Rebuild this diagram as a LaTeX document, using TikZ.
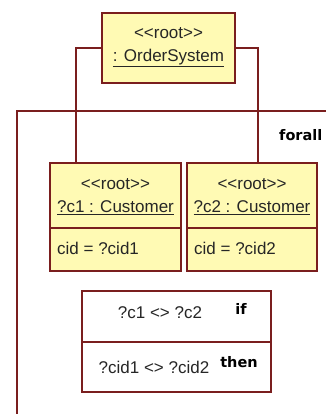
\documentclass[tikz,border=0pt]{standalone}
\usepackage{fontspec}
\setmainfont{Liberation Sans}
\newfontfamily\kwfont{DejaVu Sans}
\definecolor{umlborder}{HTML}{7A1E1E}
\definecolor{umlfill}{HTML}{FFFAB4}
\newcommand{\stereo}[1]{{<}{<}#1{>}{>}}
\begin{document}
\begin{tikzpicture}[x=1pt,y=-1pt,
  objbox/.style={draw=umlborder,fill=umlfill,line width=1.2pt},
  cbox/.style={draw=umlborder,fill=white,line width=1.2pt},
  conn/.style={draw=umlborder,line width=1.1pt},
  txt/.style={font=\fontsize{17}{19}\selectfont,text=black!85,inner sep=0pt},
  kw/.style={font=\kwfont\bfseries\fontsize{14.5}{16}\selectfont,inner sep=0pt,text=black}]
\useasboundingbox (0,0) rectangle (325,414);
% forall frame (extends beyond the right edge)
\draw[conn] (340,111) -- (17,111) -- (17,420);
\node[kw,anchor=west] (forall) at (279,135) {forall};
% top object
\draw[objbox] (102,13) rectangle (235,83);
\coordinate (osL) at (102,48);
\coordinate (osR) at (235,48);
\node[txt] (os1) at (168.5,33) {\stereo{root}};
\node[txt] (os2) at (168.5,58) {\underline{: OrderSystem}};
% customer 1
\draw[objbox] (50,163) rectangle (181,271);
\draw[conn] (50,228) -- (181,228);
\node[txt] (c1s) at (115.5,184) {\stereo{root}};
\node[txt] (c1n) at (115.5,208) {\underline{?c1 : Customer}};
\node[txt,anchor=west] (c1a) at (57,248) {cid = ?cid1};
\coordinate (c1top) at (76,163);
% customer 2
\draw[objbox] (187,163) rectangle (317,271);
\draw[conn] (187,228) -- (317,228);
\node[txt] (c2s) at (252,184) {\stereo{root}};
\node[txt] (c2n) at (252,208) {\underline{?c2 : Customer}};
\node[txt,anchor=west] (c2a) at (194,248) {cid = ?cid2};
\coordinate (c2top) at (258,163);
% connectors
\draw[conn] (osL) -| (c1top);
\draw[conn] (osR) -| (c2top);
% constraint box
\draw[cbox] (82,291) rectangle (271,392);
\draw[conn] (82,342) -- (271,342);
\node[txt] (if1) at (160,313) {?c1 <> ?c2};
\node[kw] (ifkw) at (241,309) {if};
\node[txt] (th1) at (154,367) {?cid1 <> ?cid2};
\node[kw] (thkw) at (239,362) {then};
\end{tikzpicture}
\end{document}
